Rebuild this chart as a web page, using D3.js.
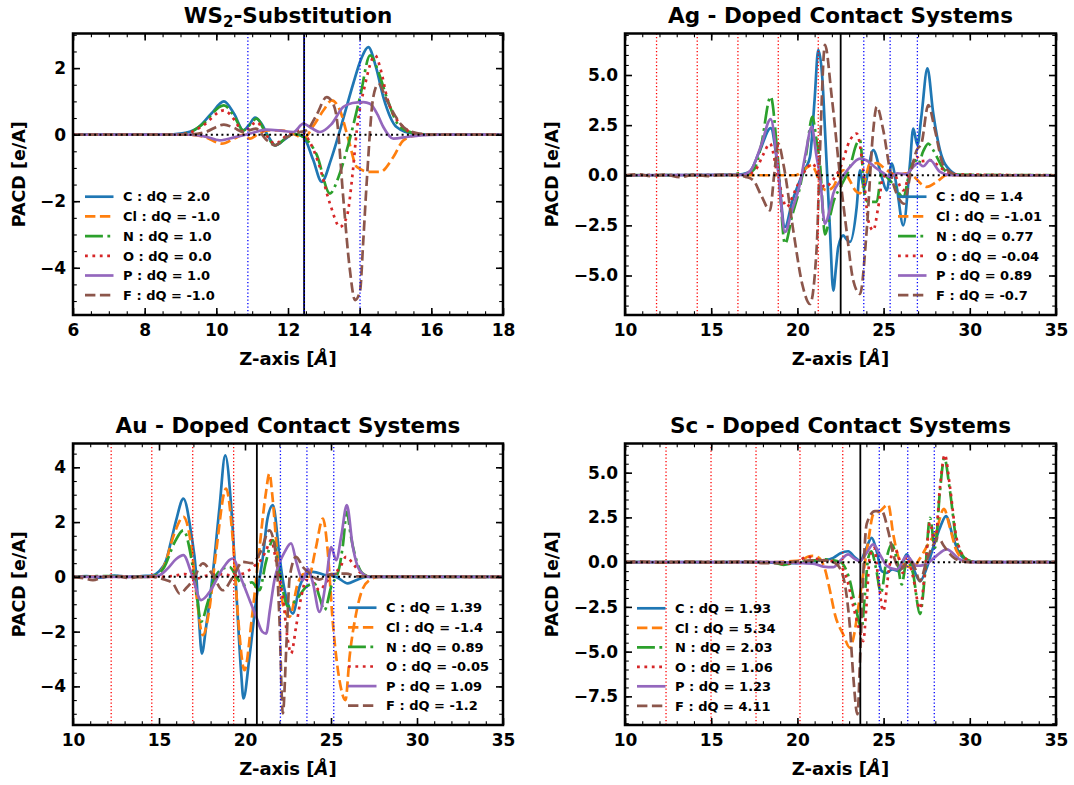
<!DOCTYPE html>
<html>
<head>
<meta charset="utf-8">
<script src="https://cdn.jsdelivr.net/npm/d3@7"></script>
<style>
  body { margin: 0; background: #fff; }
  svg { display: block; }
</style>
</head>
<body>
<svg id="fig" width="1074" height="785"></svg>
<script>
// ---------- species, legend styling ----------
const species = ["C", "Cl", "N", "O", "P", "F"];
const colors = ["#1f77b4", "#ff7f0e", "#2ca02c", "#d62728", "#9467bd", "#8c564b"];
const dashes = [null, "10.4,4.5", "17.9,4.5,2.8,4.5", "2.8,4.6", null, "10.4,4.5"];

// ---------- WS2 substitution: PACD profiles [z (Å), value] ----------
const ws2C = [[6,0],[8.6,0],[9.0,0.03],[9.45,0.18],[9.85,0.62],[10.21,1.0],[10.5,0.62],[10.75,0.13],[10.92,0.3],[11.08,0.51],[11.25,0.35],[11.45,-0.05],[11.64,-0.32],[11.9,-0.15],[12.15,0.03],[12.43,-0.07],[12.7,-0.75],[12.94,-1.42],[13.2,-0.75],[13.45,0.13],[13.82,1.53],[14.05,2.3],[14.24,2.63],[14.45,2.05],[14.66,1.13],[15.03,0.23],[15.49,0.03],[16,0],[18,0]];
const ws2Cl = [[6,0],[9.2,0],[9.7,-0.08],[10.15,-0.27],[10.5,-0.12],[10.75,0],[10.94,-0.12],[11.2,0.05],[11.45,0.13],[11.8,0.13],[12.24,-0.02],[12.43,-0.12],[12.7,0.25],[13.0,0.75],[13.22,1.03],[13.45,0.73],[13.7,-0.2],[13.92,-0.97],[14.29,-1.12],[14.57,-1.12],[14.94,-0.67],[15.22,-0.17],[15.59,-0.02],[16,0],[18,0]];
const ws2N = [[6,0],[8.8,0],[9.2,0.05],[9.6,0.3],[10.21,0.88],[10.5,0.55],[10.75,0.13],[11.13,0.48],[11.35,0.1],[11.64,-0.32],[11.95,-0.1],[12.2,0.02],[12.43,-0.07],[12.8,-0.6],[13.17,-1.77],[13.4,-1.3],[13.64,-0.47],[14.01,1.13],[14.29,2.38],[14.55,1.8],[14.76,1.1],[15.13,0.23],[15.59,0.03],[16,0],[18,0]];
const ws2O = [[6,0],[8.8,0],[9.2,0.04],[9.6,0.25],[10.21,0.73],[10.5,0.45],[10.75,0.08],[11.13,0.38],[11.35,0.05],[11.64,-0.27],[12.0,0],[12.34,0.13],[12.6,-0.2],[12.85,-0.85],[13.17,-2.07],[13.45,-2.77],[13.64,-2.47],[13.8,-1.2],[13.92,0.13],[14.15,1.5],[14.43,2.38],[14.6,1.9],[14.76,1.13],[15.22,0.23],[15.6,0.02],[16,0],[18,0]];
const ws2P = [[6,0],[9.3,0],[9.7,-0.06],[10.1,-0.17],[10.5,-0.08],[10.9,0.02],[11.4,0.15],[11.8,0.12],[12.15,0.08],[12.43,0.33],[12.65,0.2],[12.89,0.08],[13.2,0.3],[13.54,0.83],[13.8,0.95],[14.1,0.98],[14.29,0.93],[14.5,0.6],[14.66,0.23],[14.94,-0.12],[15.31,-0.07],[15.7,-0.02],[16.2,0],[18,0]];
const ws2F = [[6,0],[9.2,0],[9.7,0.08],[10.21,0.3],[10.5,0.2],[10.75,0.08],[11.1,0.18],[11.41,-0.17],[11.64,-0.32],[11.9,-0.12],[12.15,0.03],[12.52,0.13],[12.8,0.6],[13.08,1.13],[13.25,0.95],[13.36,0.5],[13.54,-1.87],[13.72,-4.0],[13.87,-4.97],[14.01,-4.7],[14.1,-3.2],[14.2,-1.37],[14.38,1.13],[14.52,1.53],[14.76,1.03],[15.0,0.55],[15.22,0.23],[15.59,0.05],[16,0],[18,0]];
const ws2DQ = ["2.0", "-1.0", "1.0", "0.0", "1.0", "-1.0"];
const ws2Red = [];
const ws2Black = [12.45];
const ws2Blue = [10.88, 12.45, 14.01];
const ws2XTicks = [6, 8, 10, 12, 14, 16, 18];
const ws2YTicks = [-4, -2, 0, 2];

// ---------- Ag-doped contact ----------
const agC = [[10,0],[16.5,0.02],[17.2,0.15],[17.83,1.25],[18.45,2.35],[18.85,0.5],[19.28,-2.58],[19.7,-1.3],[20.15,-0.25],[20.5,0.4],[20.73,0.92],[21.0,3.8],[21.21,6.25],[21.45,4.8],[21.6,2.25],[21.89,-2.75],[22.08,-5.75],[22.25,-4.5],[22.37,-3.58],[22.66,-3.0],[22.85,-3.2],[23.05,-3.33],[23.44,-1.58],[23.63,0.25],[23.85,-0.6],[24.4,1.25],[24.89,-0.08],[25.18,-0.75],[25.47,0.58],[25.76,-0.58],[26.14,-2.5],[26.53,0.58],[26.72,2.33],[26.96,1.5],[27.2,3.0],[27.54,5.33],[27.88,3.08],[28.27,1.25],[28.85,0.25],[29.43,0],[35,0]];
const agCl = [[10,0],[19.9,0],[20.4,0.3],[20.83,0.5],[21.1,0.1],[21.31,-0.42],[21.7,-0.75],[22.08,-0.58],[22.4,0],[22.66,0.25],[23.0,-0.2],[23.4,-0.8],[23.63,-0.9],[23.9,-0.3],[24.21,0.58],[24.6,0.6],[25.18,0.25],[25.76,0],[26.3,0.1],[26.8,-0.1],[27.2,-0.45],[27.5,-0.58],[28.08,-0.33],[28.66,0],[35,0]];
const agN = [[10,0],[16.3,0.02],[16.6,0.1],[17.0,0.05],[17.5,0.3],[17.9,1.5],[18.45,3.92],[18.85,1.0],[19.28,-3.42],[19.7,-2.0],[20.15,-0.58],[20.5,1.0],[20.87,2.92],[21.1,1.8],[21.31,0.58],[21.6,-2.95],[21.85,-2.2],[22.1,-1.3],[22.5,-0.58],[23.05,0.42],[23.44,1.58],[23.63,1.75],[23.92,-1.08],[24.11,-1.33],[24.6,-1.33],[24.89,0.08],[25.2,-0.1],[25.6,-0.5],[26.14,-1.08],[26.53,0.25],[26.82,0.75],[27.0,0.55],[27.3,1.2],[27.59,1.58],[27.88,1.25],[28.46,0.33],[29.0,0.03],[35,0]];
const agO = [[10,0],[17.0,0.02],[17.6,0.3],[18.0,1.0],[18.41,1.58],[18.85,0],[19.38,-1.58],[19.8,-0.9],[20.15,-0.25],[20.5,0.3],[20.87,0.58],[21.2,0.1],[21.6,-0.6],[22.0,-0.3],[22.5,0.4],[23.05,1.75],[23.44,2.08],[23.82,0.25],[24.11,-2.25],[24.4,-2.75],[24.69,-1.58],[24.98,-0.08],[25.56,0.08],[26.14,-0.75],[26.5,0.1],[26.92,0.92],[27.2,0.7],[27.69,0.75],[28.27,0.4],[28.9,0.05],[35,0]];
const agP = [[10,0],[16.8,0.02],[17.3,0.25],[17.9,1.5],[18.45,2.8],[18.85,0.5],[19.28,-2.83],[19.7,-1.7],[20.15,-0.42],[20.5,1.2],[20.83,2.42],[21.1,1.0],[21.31,-0.08],[21.6,-2.42],[21.85,-1.8],[22.08,-0.92],[22.5,-0.25],[23.05,0.42],[23.63,0.83],[24.0,0.75],[24.5,0.4],[25.0,0.1],[25.4,-0.1],[25.8,0.1],[26.3,0.05],[26.72,0.42],[27.0,0.6],[27.3,0.45],[27.69,0.75],[28.27,0.17],[28.9,0],[35,0]];
const agF = [[10,0],[10.8,0.05],[11.5,-0.05],[12.3,0.03],[13.2,-0.1],[14.0,0.03],[14.8,-0.05],[15.6,0.03],[16.5,0],[17.0,-0.08],[17.44,-0.25],[17.9,-1.0],[18.41,-1.75],[18.65,0],[18.89,1.58],[19.2,0.5],[19.76,-2.75],[20.3,-5.5],[20.73,-6.42],[21.12,-3.58],[21.3,1.0],[21.6,6.5],[21.99,3.92],[22.5,-0.25],[22.85,-2.75],[23.24,-5.25],[23.63,-5.92],[24.02,-2.75],[24.4,2.25],[24.6,3.42],[24.98,2.25],[25.37,0.25],[25.95,-1.25],[26.18,-1.42],[26.53,-0.08],[26.92,1.25],[27.2,1.6],[27.59,3.5],[27.98,2.25],[28.46,0.5],[29.04,0.08],[29.5,0],[35,0]];
const agDQ = ["1.4", "-1.01", "0.77", "-0.04", "0.89", "-0.7"];
const agRed = [11.83, 14.19, 16.55, 18.89, 21.21];
const agBlack = [22.51];
const agBlue = [23.85, 25.38, 26.96];
const agXTicks = [10, 15, 20, 25, 30, 35];
const agYTicks = [-5, -2.5, 0, 2.5, 5];

// ---------- Au-doped contact ----------
const auC = [[10,0],[10.8,0.03],[11.6,-0.03],[12.4,0.05],[13.2,0],[14.0,0.03],[14.6,0.05],[15.0,0.2],[15.42,0.61],[15.7,1.3],[16.0,2.07],[16.42,2.86],[16.87,1.58],[17.16,0.12],[17.32,-1.5],[17.49,-2.8],[17.74,-1.82],[18.13,0.12],[18.52,2.55],[18.85,4.44],[19.2,2.55],[19.49,-0.49],[19.78,-3.53],[19.91,-4.44],[20.26,-2.92],[20.65,-0.85],[21.04,0.73],[21.3,2.1],[21.62,2.62],[22.01,0.73],[22.2,-0.12],[22.49,-0.97],[22.78,-1.34],[23.17,-0.36],[23.65,0.12],[23.94,0.18],[24.72,0.06],[25.3,0],[25.98,-0.24],[26.46,-0.12],[27.04,0],[35,0]];
const auCl = [[10,0],[12,0.02],[14,0],[14.8,0.05],[15.3,0.4],[15.9,1.6],[16.42,2.19],[16.9,1.0],[17.2,-0.8],[17.55,-2.13],[17.9,-1.3],[18.3,0.8],[18.9,3.22],[19.3,1.3],[19.6,-1.5],[19.97,-3.41],[20.4,-1.5],[20.8,0.8],[21.2,3.0],[21.42,3.77],[21.6,2.9],[21.81,1.34],[22.2,-1.0],[22.59,-1.46],[23.07,-0.24],[23.4,0.1],[23.7,0],[24.1,1.0],[24.53,2.13],[24.8,1.0],[25.11,-1.7],[25.5,-3.8],[25.84,-4.5],[26.08,-2.92],[26.46,-1.34],[26.8,-0.5],[27.24,-0.12],[27.8,0],[35,0]];
const auN = [[10,0],[12,0.03],[14,0],[14.8,0.05],[15.3,0.35],[15.9,1.25],[16.42,1.7],[16.9,0.6],[17.2,-0.7],[17.45,-1.64],[17.8,-1.0],[18.2,-0.1],[18.7,0.3],[19.1,0.36],[19.5,0],[19.9,-0.3],[20.4,-0.2],[20.84,-0.49],[21.2,0.5],[21.62,1.34],[22.0,0.2],[22.49,-1.09],[22.97,-0.85],[23.56,-0.36],[24.04,-0.24],[24.33,-0.73],[24.62,-1.22],[25.01,-0.36],[25.49,0.36],[25.7,1.2],[25.92,2.37],[26.15,1.5],[26.37,0.85],[26.85,0.12],[27.3,0],[35,0]];
const auO = [[10,0],[15,0],[16.0,0.05],[16.5,0.1],[17.16,-0.06],[17.8,0.05],[18.5,0.1],[19.3,0.05],[20.0,0.15],[20.46,0.36],[21.04,0.73],[21.23,0.97],[21.52,1.34],[21.8,0.6],[22.2,-0.73],[22.49,-2.31],[22.68,-2.8],[22.97,-1.82],[23.27,-0.73],[23.56,-0.12],[23.94,-0.2],[24.33,-0.49],[24.72,-0.2],[25.11,0.12],[25.49,0.3],[25.88,0.73],[26.27,0.49],[26.66,0.18],[27.2,0.02],[35,0]];
const auP = [[10,0],[14.5,0],[15.0,0.05],[15.5,0.3],[16.0,0.65],[16.42,0.79],[16.9,0.1],[17.45,-0.85],[18.0,-0.5],[18.6,0.2],[19.29,0.67],[19.8,-0.1],[20.3,-0.9],[20.65,-1.46],[21.0,-2.0],[21.23,-2.07],[21.45,-1.2],[21.71,-0.12],[22.0,0.5],[22.3,0.9],[22.68,1.22],[23.0,0.5],[23.36,-0.12],[23.65,0.3],[23.94,-0.2],[24.33,-1.28],[24.72,-0.12],[25.01,1.09],[25.3,0.61],[25.6,1.5],[25.92,2.62],[26.27,1.09],[26.66,0.24],[27.24,0],[35,0]];
const auF = [[10,0],[10.6,-0.05],[11.16,-0.12],[11.8,0],[12.5,0.03],[13.3,-0.05],[14.0,0.02],[14.7,0],[15.3,-0.1],[15.81,-0.24],[16.2,-0.61],[16.6,-0.4],[16.97,-0.12],[17.55,0.49],[18.1,0.1],[18.71,-0.49],[19.3,0],[19.87,0.55],[20.4,0.5],[20.9,0.9],[21.42,1.7],[21.81,0.73],[22.0,-1.5],[22.2,-4.99],[22.4,-2.6],[22.6,0],[22.97,0.73],[23.36,0.36],[23.8,0.1],[24.3,-0.1],[25.0,0.1],[25.88,0.12],[26.5,0.02],[35,0]];
const auDQ = ["1.39", "-1.4", "0.89", "-0.05", "1.09", "-1.2"];
const auRed = [12.22, 14.58, 16.96, 19.34];
const auBlack = [20.69];
const auBlue = [22.06, 23.6, 25.16];
const auXTicks = [10, 15, 20, 25, 30, 35];
const auYTicks = [-4, -2, 0, 2, 4];

// ---------- Sc-doped contact ----------
const scC = [[10,0],[18,0],[19,-0.05],[20,-0.05],[21,0.05],[21.5,0.1],[22.08,0.24],[22.5,0.5],[22.95,0.61],[23.3,0.3],[23.65,0.06],[24.0,0.8],[24.31,1.36],[24.6,0.6],[24.89,-0.5],[25.18,-0.6],[25.5,-0.4],[25.9,-0.5],[26.34,0.43],[26.7,-0.3],[27.11,-1.06],[27.5,-0.33],[27.9,0.9],[28.3,2.0],[28.62,2.57],[29.04,1.36],[29.43,0.43],[30.01,0.06],[30.5,0],[35,0]];
const scCl = [[10,0],[18.5,0],[19.5,0.05],[20.2,0.1],[20.6,0.3],[20.92,0.35],[21.3,0.2],[21.6,-0.4],[21.89,-1.6],[22.2,-3.0],[22.66,-4.04],[23.05,-4.79],[23.3,-4.0],[23.53,-2.55],[23.82,-0.69],[24.11,1.17],[24.4,2.66],[24.79,2.85],[25.27,3.22],[25.56,1.55],[25.95,0.06],[26.3,-0.2],[26.7,-0.3],[27.1,0.2],[27.69,1.17],[28.0,1.6],[28.5,2.98],[28.85,1.92],[29.24,0.61],[29.82,0.06],[30.3,0],[35,0]];
const scN = [[10,0],[18.5,0],[19.2,-0.15],[19.8,-0.05],[20.5,0.05],[21.0,0.1],[21.6,0.15],[22.08,0.1],[22.5,0],[22.86,-0.5],[23.05,-1.06],[23.35,-2.4],[23.73,-3.67],[23.9,-2.0],[24.11,0.24],[24.3,0.6],[24.55,-0.3],[24.85,-1.71],[25.18,0.24],[25.47,1.0],[25.8,0],[26.05,-1.25],[26.34,0.06],[26.7,-0.6],[27.11,-2.9],[27.4,-0.69],[27.69,2.48],[27.98,0.8],[28.27,3.97],[28.52,5.83],[28.85,3.97],[29.24,1.17],[29.82,0.15],[30.3,0],[35,0]];
const scO = [[10,0],[18.5,0],[19.2,-0.1],[20.0,0.05],[20.6,0.3],[21.0,0.2],[21.6,0.1],[22.1,0.05],[22.5,-0.2],[22.86,-0.9],[23.2,-2.3],[23.6,-3.8],[23.82,-4.41],[24.0,-2.5],[24.2,0.3],[24.45,0.8],[24.7,-1.0],[24.98,-2.74],[25.3,-0.5],[25.6,0.8],[25.9,0.2],[26.1,-0.6],[26.34,0.3],[26.7,-0.8],[27.11,-2.6],[27.4,-0.5],[27.69,2.2],[27.98,1.0],[28.27,4.2],[28.55,6.0],[28.85,4.2],[29.24,1.3],[29.82,0.15],[30.3,0],[35,0]];
const scP = [[10,0],[19,0],[20,-0.05],[21,-0.1],[21.5,-0.25],[22.08,-0.28],[22.5,0.1],[22.95,0.43],[23.3,0.2],[23.63,0.06],[24.0,0.5],[24.4,0.99],[24.8,0.4],[25.18,-0.2],[25.76,-0.41],[26.34,0.34],[26.92,-0.2],[27.4,-0.15],[28.0,0.3],[28.66,0.71],[29.43,0.15],[30,0],[35,0]];
const scF = [[10,0],[11,0.03],[12,-0.03],[13.5,0.03],[15,-0.02],[17,0.03],[18,-0.05],[19,-0.05],[20,0.05],[21,0.1],[21.6,0.1],[22.1,0],[22.5,-0.4],[22.8,-1.5],[23.05,-3.67],[23.25,-6.5],[23.48,-8.5],[23.65,-5.0],[23.82,-0.69],[24.02,2.14],[24.5,2.85],[24.89,2.85],[25.27,1.73],[25.6,0.3],[26.0,-0.4],[26.5,0.1],[26.8,-0.3],[27.11,-1.06],[27.5,0.1],[27.8,0.8],[28.17,1.36],[28.5,0.9],[29.0,0.3],[29.5,0.05],[30,0],[35,0]];
const scDQ = ["1.93", "5.34", "2.03", "1.06", "1.23", "4.11"];
const scRed = [12.38, 14.99, 17.6, 20.15, 22.63];
const scBlack = [23.65];
const scBlue = [24.75, 26.4, 27.94];
const scXTicks = [10, 15, 20, 25, 30, 35];
const scYTicks = [-7.5, -5, -2.5, 0, 2.5, 5];

// ---------- panel layout ----------
const panels = [
  { id: "ws2", title: ["WS", "2", "-Substitution"], series: [ws2C, ws2Cl, ws2N, ws2O, ws2P, ws2F], dq: ws2DQ,
    red: ws2Red, black: ws2Black, blue: ws2Blue, xTicks: ws2XTicks, yTicks: ws2YTicks,
    xDom: [6, 18], yDom: [-5.42, 3.04], xMinor: 0.5, yMinor: 0.5, yFmt: "d",
    box: { l: 73, r: 503, t: 33.5, b: 315 }, ylabX: 19, leg: { x: 85, y: 196.7, dy: 19.7 } },
  { id: "ag", title: ["Ag - Doped Contact Systems"], series: [agC, agCl, agN, agO, agP, agF], dq: agDQ,
    red: agRed, black: agBlack, blue: agBlue, xTicks: agXTicks, yTicks: agYTicks,
    xDom: [10, 35], yDom: [-6.97, 7.07], xMinor: 1, yMinor: 0.5, yFmt: ".1f",
    box: { l: 625, r: 1056, t: 33.5, b: 315 }, ylabX: 552, leg: { x: 898, y: 196.7, dy: 19.7 } },
  { id: "au", title: ["Au - Doped Contact Systems"], series: [auC, auCl, auN, auO, auP, auF], dq: auDQ,
    red: auRed, black: auBlack, blue: auBlue, xTicks: auXTicks, yTicks: auYTicks,
    xDom: [10, 35], yDom: [-5.41, 4.87], xMinor: 1, yMinor: 0.5, yFmt: "d",
    box: { l: 73, r: 503, t: 443.5, b: 725 }, ylabX: 19, leg: { x: 348, y: 607.7, dy: 19.6 } },
  { id: "sc", title: ["Sc - Doped Contact Systems"], series: [scC, scCl, scN, scO, scP, scF], dq: scDQ,
    red: scRed, black: scBlack, blue: scBlue, xTicks: scXTicks, yTicks: scYTicks,
    xDom: [10, 35], yDom: [-9.1, 6.63], xMinor: 1, yMinor: 0.5, yFmt: ".1f",
    box: { l: 625, r: 1056, t: 443.5, b: 725 }, ylabX: 552, leg: { x: 637, y: 608.3, dy: 19.5 } }
];

const FONT = "'DejaVu Sans', 'Liberation Sans', sans-serif";
const svg = d3.select("#fig");
const defs = svg.append("defs");

function styleAxis(sel, fontSize) {
  sel.select(".domain").remove();
  sel.attr("font-family", FONT).attr("font-weight", "bold").attr("font-size", fontSize);
  sel.selectAll("text").attr("fill", "#000");
}

function drawPanel(p) {
  const { l, r, t, b } = p.box;
  const x = d3.scaleLinear().domain(p.xDom).range([l, r]);
  const y = d3.scaleLinear().domain(p.yDom).range([b, t]);
  const g = svg.append("g");

  defs.append("clipPath").attr("id", "clip-" + p.id)
    .append("rect").attr("x", l).attr("y", t).attr("width", r - l).attr("height", b - t);

  const plot = g.append("g").attr("clip-path", `url(#clip-${p.id})`);
  const line = d3.line().x(d => x(d[0])).y(d => y(d[1])).curve(d3.curveMonotoneX);

  // charge-difference profiles
  p.series.forEach((s, i) => {
    plot.append("path").datum(s)
      .attr("d", line)
      .attr("fill", "none")
      .attr("stroke", colors[i])
      .attr("stroke-width", 2.7)
      .attr("stroke-linejoin", "round")
      .attr("stroke-dasharray", dashes[i]);
  });

  // atomic layer markers
  const vline = (vals, color, width, dash) => {
    plot.selectAll(null).data(vals).enter().append("line")
      .attr("x1", d => x(d)).attr("x2", d => x(d))
      .attr("y1", t).attr("y2", b)
      .attr("stroke", color).attr("stroke-width", width)
      .attr("stroke-dasharray", dash);
  };
  vline(p.red, "#ff0000", 1.3, "1.3,2.2");
  vline(p.black, "#000", 1.8, null);
  vline(p.blue, "#0000ff", 1.3, "1.3,2.2");

  // zero reference
  plot.append("line")
    .attr("x1", l).attr("x2", r).attr("y1", y(0)).attr("y2", y(0))
    .attr("stroke", "#000").attr("stroke-width", 2).attr("stroke-dasharray", "2,3.3");

  // minor ticks on all sides
  const xMinor = d3.range(p.xDom[0], p.xDom[1] + 1e-9, p.xMinor);
  const y0 = Math.ceil(p.yDom[0] / p.yMinor) * p.yMinor;
  const yMinor = d3.range(y0, p.yDom[1] + 1e-9, p.yMinor);
  const minorAxes = [
    [d3.axisBottom(x).tickValues(xMinor), `translate(0,${b})`],
    [d3.axisTop(x).tickValues(xMinor), `translate(0,${t})`],
    [d3.axisLeft(y).tickValues(yMinor), `translate(${l},0)`],
    [d3.axisRight(y).tickValues(yMinor), `translate(${r},0)`]
  ];
  minorAxes.forEach(([ax, tr]) => {
    const a = g.append("g").attr("transform", tr)
      .call(ax.tickSizeInner(-3.8).tickSizeOuter(0).tickFormat(""));
    styleAxis(a, 10);
    a.selectAll("line").attr("stroke", "#000").attr("stroke-width", 1.1);
  });

  // major ticks and labels
  const xb = g.append("g").attr("transform", `translate(0,${b})`)
    .call(d3.axisBottom(x).tickValues(p.xTicks).tickSizeInner(-7).tickSizeOuter(0)
      .tickPadding(9).tickFormat(d3.format("d")));
  const xt = g.append("g").attr("transform", `translate(0,${t})`)
    .call(d3.axisTop(x).tickValues(p.xTicks).tickSizeInner(-7).tickSizeOuter(0).tickFormat(""));
  const yl = g.append("g").attr("transform", `translate(${l},0)`)
    .call(d3.axisLeft(y).tickValues(p.yTicks).tickSizeInner(-7).tickSizeOuter(0)
      .tickPadding(7).tickFormat(d3.format(p.yFmt)));
  const yr = g.append("g").attr("transform", `translate(${r},0)`)
    .call(d3.axisRight(y).tickValues(p.yTicks).tickSizeInner(-7).tickSizeOuter(0).tickFormat(""));
  [xb, xt, yl, yr].forEach(a => {
    styleAxis(a, 17);
    a.selectAll("line").attr("stroke", "#000").attr("stroke-width", 1.6);
  });

  // frame
  g.append("rect").attr("x", l).attr("y", t).attr("width", r - l).attr("height", b - t)
    .attr("fill", "none").attr("stroke", "#000").attr("stroke-width", 2.5);

  // title
  const title = g.append("text")
    .attr("x", (l + r) / 2).attr("y", t - 10.5)
    .attr("text-anchor", "middle")
    .attr("font-family", FONT).attr("font-weight", "bold").attr("font-size", 21.5);
  if (p.title.length === 3) {
    title.append("tspan").text(p.title[0]);
    title.append("tspan").attr("font-size", 15).attr("dy", 4).text(p.title[1]);
    title.append("tspan").attr("dy", -4).text(p.title[2]);
  } else {
    title.text(p.title[0]);
  }

  // axis labels
  const xl = g.append("text")
    .attr("x", (l + r) / 2).attr("y", b + 49.5)
    .attr("text-anchor", "middle")
    .attr("font-family", FONT).attr("font-weight", "bold").attr("font-size", 18);
  xl.append("tspan").text("Z-axis [");
  xl.append("tspan").attr("font-style", "italic").text("Å");
  xl.append("tspan").text("]");

  g.append("text")
    .attr("transform", `translate(${p.ylabX + 6.4},${(t + b) / 2}) rotate(-90)`)
    .attr("text-anchor", "middle")
    .attr("font-family", FONT).attr("font-weight", "bold").attr("font-size", 17.5)
    .text("PACD [e/A]");

  // legend
  const leg = g.append("g");
  species.forEach((sp, i) => {
    const yy = p.leg.y + i * p.leg.dy;
    leg.append("line")
      .attr("x1", p.leg.x).attr("x2", p.leg.x + 28.5)
      .attr("y1", yy).attr("y2", yy)
      .attr("stroke", colors[i]).attr("stroke-width", 2.7)
      .attr("stroke-dasharray", dashes[i]);
    leg.append("text")
      .attr("x", p.leg.x + 38).attr("y", yy + 4.7)
      .attr("font-family", FONT).attr("font-weight", "bold").attr("font-size", 13)
      .text(`${sp} : dQ = ${p.dq[i]}`);
  });
}

panels.forEach(drawPanel);
</script>
</body>
</html>
